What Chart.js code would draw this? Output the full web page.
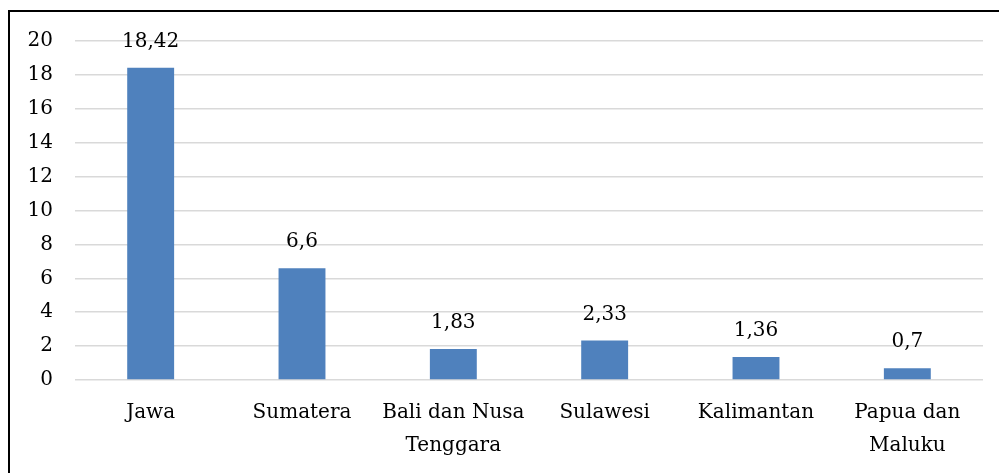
<!DOCTYPE html>
<html><head><meta charset="utf-8">
<script src="https://cdn.jsdelivr.net/npm/chart.js@4/dist/chart.umd.min.js"></script>
<style>
html,body{margin:0;padding:0;background:#fff;overflow:hidden;}
#wrap{position:relative;width:999px;height:473px;}
#frame{position:absolute;left:8px;top:10px;width:1100px;height:600px;border:2px solid #000;box-sizing:border-box;}
canvas{position:absolute;left:0;top:0;}
</style></head><body>
<div id="wrap"><div id="frame"></div><canvas id="c" width="999" height="473"></canvas></div>
<script>
const categories = [["Jawa"],["Sumatera"],["Bali dan Nusa","Tenggara"],["Sulawesi"],["Kalimantan"],["Papua dan","Maluku"]];
const values = [18.42, 6.6, 1.83, 2.33, 1.36, 0.7];
const valueLabels = ["18,42","6,6","1,83","2,33","1,36","0,7"];
const FONT = "'DejaVu Serif', 'Liberation Serif', serif";

const labelPlugin = {
  id:'vlabels',
  afterDatasetsDraw(chart){
    const ctx = chart.ctx;
    const meta = chart.getDatasetMeta(0);
    ctx.save();
    ctx.font = "20px " + FONT;
    ctx.fillStyle = "#000";
    ctx.textAlign = "center";
    ctx.textBaseline = "middle";
    meta.data.forEach((bar,i)=>{
      ctx.fillText(valueLabels[i], bar.x, bar.y - 26);
    });
    ctx.restore();
  }
};

new Chart(document.getElementById('c'), {
  type:'bar',
  data:{labels:categories, datasets:[{data:values, backgroundColor:'#4F81BD', borderWidth:0, barPercentage:0.31, categoryPercentage:1}]},
  options:{
    responsive:false, animation:false,
    layout:{padding:{top:41,right:16,left:0,bottom:0}},
    plugins:{legend:{display:false}, tooltip:{enabled:false}},
    scales:{
      x:{
        grid:{display:false, drawTicks:false},
        border:{display:false},
        ticks:{color:'#000', font:{family:FONT, size:20, lineHeight:1.65}, padding:16, maxRotation:0, autoSkip:false},
        afterFit(s){ s.height = 93; }
      },
      y:{
        min:0, max:20,
        grid:{color:'#D9D9D9', lineWidth:1.5, drawTicks:false},
        border:{display:false},
        ticks:{stepSize:2, color:'#000', font:{family:FONT, size:20}, padding:22},
        afterFit(s){ s.width = 75; }
      }
    }
  },
  plugins:[labelPlugin]
});
</script>
</body></html>
